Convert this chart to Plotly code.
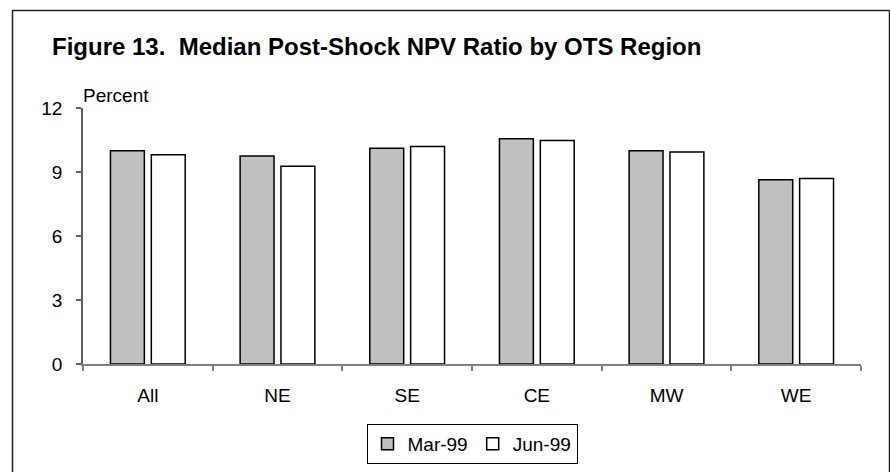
import plotly.graph_objects as go

categories = ["All", "NE", "SE", "CE", "MW", "WE"]
mar99 = [10.0, 9.75, 10.11, 10.56, 10.0, 8.64]
jun99 = [9.81, 9.27, 10.19, 10.48, 9.94, 8.70]
series_names = ["Mar-99", "Jun-99"]
y_ticks = [0, 3, 6, 9, 12]

FONT = "Liberation Sans, Arial, sans-serif"

fig = go.Figure()
fig.add_trace(go.Bar(x=categories, y=mar99, name=series_names[0],
                     marker=dict(color="#c0c0c0", line=dict(color="#000000", width=1.5))))
fig.add_trace(go.Bar(x=categories, y=jun99, name=series_names[1],
                     marker=dict(color="#ffffff", line=dict(color="#000000", width=1.5))))

L, R, T, B = 83, 29, 108, 108
W, H = 890, 472
pw = W - L - R
ph = H - T - B

def px(xp):
    return (xp - L) / pw

def py(yp):
    return (H - B - yp) / ph

fig.update_layout(
    width=W, height=H,
    margin=dict(l=L, r=R, t=T, b=B, pad=0, autoexpand=False),
    paper_bgcolor="white", plot_bgcolor="white",
    font=dict(family=FONT, size=19, color="#000"),
    barmode="group", bargap=0.37, bargroupgap=0.17,
    showlegend=True,
    legend=dict(orientation="h", x=0.5, xanchor="center", y=py(424), yanchor="top",
                bordercolor="#000", borderwidth=1, bgcolor="white",
                font=dict(family=FONT, size=19), traceorder="normal",
                itemwidth=30, tracegroupgap=0),
    xaxis=dict(showline=True, linecolor="#808080", linewidth=1.5,
               ticks="outside", tickson="boundaries", ticklen=5, tickcolor="#808080",
               tickwidth=1.5, showgrid=False, ticklabelstandoff=13, automargin=False,
               tickfont=dict(family=FONT, size=19)),
    yaxis=dict(range=[0, 12], tickvals=y_ticks, showline=True, linecolor="#606060", linewidth=1.5,
               ticks="outside", ticklen=5, tickcolor="#606060", tickwidth=1.5,
               showgrid=False, zeroline=False, ticklabelstandoff=10, automargin=False,
               tickfont=dict(family=FONT, size=19)),
    annotations=[
        dict(text="<b>Figure 13. \u00a0Median Post-Shock NPV Ratio by OTS Region</b>",
             xref="paper", yref="paper", x=px(50), y=py(46), xanchor="left", yanchor="middle",
             showarrow=False, font=dict(family=FONT, size=24, color="#000")),
        dict(text="Percent", xref="paper", yref="paper", x=px(81), y=py(95),
             xanchor="left", yanchor="middle", showarrow=False,
             font=dict(family=FONT, size=19, color="#000")),
    ],
    shapes=[
        dict(type="rect", xref="paper", yref="paper",
             x0=px(12.5), x1=px(889.5), y0=py(480), y1=py(10.5),
             line=dict(color="#222", width=1.5), fillcolor="rgba(0,0,0,0)", layer="below"),
    ],
)

fig.write_html(
    "out.html",
    config={"displayModeBar": False},
    post_script="document.body.style.margin='0';document.body.style.overflow='hidden';",
)
